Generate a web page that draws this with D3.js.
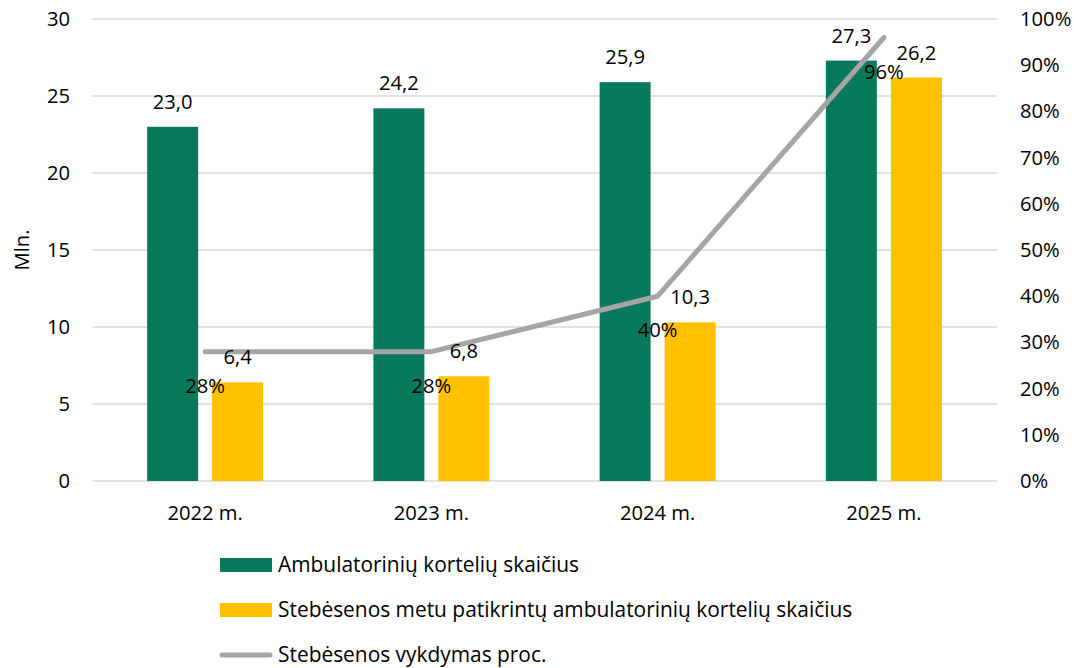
<!DOCTYPE html>
<html>
<head>
<meta charset="utf-8">
<script src="https://cdn.jsdelivr.net/npm/d3@7"></script>
<style>
  body { margin: 0; background: #fff; }
  text { font-family: "Open Sans", Lato, sans-serif; fill: #000; }
</style>
</head>
<body>
<div id="chart"></div>
<script>
// data
var years = ["2022 m.", "2023 m.", "2024 m.", "2025 m."];
var cards = [23.0, 24.2, 25.9, 27.3];
var checked = [6.4, 6.8, 10.3, 26.2];
var percent = [28, 28, 40, 96];
var leftTicks = [0, 5, 10, 15, 20, 25, 30];
var rightTicks = [0, 10, 20, 30, 40, 50, 60, 70, 80, 90, 100];
var legendNames = ["Ambulatorinių kortelių skaičius",
    "Stebėsenos metu patikrintų ambulatorinių kortelių skaičius",
    "Stebėsenos vykdymas proc."];

var green = "#087A5B", yellow = "#FFC000", grey = "#A5A5A5";

var width = 1074, height = 668;
var plot = {left: 92, right: 997, top: 19, bottom: 481};
var fontSize = 20.2;
var legendFont = 20.9;

var svg = d3.select("#chart").append("svg").attr("width", width).attr("height", height);

var x = d3.scaleBand().domain(years).range([plot.left, plot.right]);
var y = d3.scaleLinear().domain([0, 30]).range([plot.bottom, plot.top]);
var y2 = d3.scaleLinear().domain([0, 100]).range([plot.bottom, plot.top]);

// bars sit inside each band: two bars + gap
var barW = 51, gap = 14;
function barX(i, k) {
    var c = x(years[i]) + x.bandwidth() / 2;
    return k === 0 ? c - gap / 2 - barW : c + gap / 2;
}

//gridlines
svg.append("g").selectAll("line").data(leftTicks).enter().append("line")
    .attr("x1", plot.left).attr("x2", plot.right)
    .attr("y1", function (d) { return y(d); }).attr("y2", function (d) { return y(d); })
    .attr("stroke", "#D9D9D9").attr("stroke-width", 1.5);

//left axis labels
svg.append("g").selectAll("text").data(leftTicks).enter().append("text")
    .attr("x", 70).attr("y", function (d) { return y(d); }).attr("dy", "0.35em")
    .attr("text-anchor", "end").style("font-size", fontSize + "px")
    .text(function (d) { return d; });

//right axis labels
svg.append("g").selectAll("text").data(rightTicks).enter().append("text")
    .attr("x", 1020).attr("y", function (d) { return y2(d); }).attr("dy", "0.35em")
    .attr("text-anchor", "start").style("font-size", fontSize + "px")
    .text(function (d) { return d + "%"; });

svg.append("text")
    .attr("transform", "translate(29," + y(15) + ") rotate(-90)")
    .attr("text-anchor", "middle").style("font-size", fontSize + "px")
    .text("Mln.");

//category labels
svg.append("g").selectAll("text").data(years).enter().append("text")
    .attr("x", function (d) { return x(d) + x.bandwidth() / 2; })
    .attr("y", 520).attr("text-anchor", "middle").style("font-size", fontSize + "px")
    .text(function (d) { return d; });

//bars
[cards, checked].forEach(function (series, k) {
    svg.append("g").selectAll("rect").data(series).enter().append("rect")
        .attr("x", function (d, i) { return barX(i, k); })
        .attr("y", function (d) { return y(d); })
        .attr("width", barW)
        .attr("height", function (d) { return plot.bottom - y(d); })
        .attr("fill", k === 0 ? green : yellow);
});

//line
var line = d3.line()
    .x(function (d, i) { return x(years[i]) + x.bandwidth() / 2; })
    .y(function (d) { return y2(d); });
svg.append("path").datum(percent).attr("d", line)
    .attr("fill", "none").attr("stroke", grey).attr("stroke-width", 5)
    .attr("stroke-linecap", "round").attr("stroke-linejoin", "round");

//bar value labels
[cards, checked].forEach(function (series, k) {
    svg.append("g").selectAll("text").data(series).enter().append("text")
        .attr("x", function (d, i) { return barX(i, k) + barW / 2; })
        .attr("y", function (d) { return y(d) - 18; })
        .attr("text-anchor", "middle").style("font-size", fontSize + "px")
        .text(function (d) { return d3.format(".1f")(d).replace(".", ","); });
});

//percent labels below the line points
svg.append("g").selectAll("text").data(percent).enter().append("text")
    .attr("x", function (d, i) { return x(years[i]) + x.bandwidth() / 2; })
    .attr("y", function (d) { return y2(d) + 34; }).attr("dy", "0.35em")
    .attr("text-anchor", "middle").style("font-size", fontSize + "px")
    .text(function (d) { return d + "%"; });

//legend
var legend = svg.append("g").attr("transform", "translate(220,565)");
legendNames.forEach(function (name, i) {
    var row = legend.append("g").attr("transform", "translate(0," + (i * 45) + ")");
    if (i < 2) {
        row.append("rect").attr("x", 0).attr("y", -7).attr("width", 52).attr("height", 14)
            .attr("fill", i === 0 ? green : yellow);
    } else {
        row.append("line").attr("x1", 2).attr("x2", 50).attr("y1", 0).attr("y2", 0)
            .attr("stroke", grey).attr("stroke-width", 5).attr("stroke-linecap", "round");
    }
    row.append("text").attr("x", 58).attr("y", 0).attr("dy", "0.35em")
        .style("font-size", legendFont + "px").text(name);
});
</script>
</body>
</html>
